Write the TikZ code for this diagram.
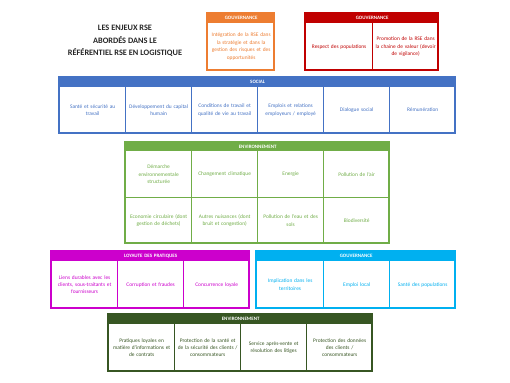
\documentclass[tikz,border=0pt]{standalone}
\usepackage{fontspec}
\setmainfont{Carlito}
\definecolor{corange}{HTML}{ED7D31}
\definecolor{cred}{HTML}{C00000}
\definecolor{cblue}{HTML}{4472C4}
\definecolor{cgreen}{HTML}{70AD47}
\definecolor{cmag}{HTML}{CC00CC}
\definecolor{ccyan}{HTML}{00B0F0}
\definecolor{cdgreen}{HTML}{375623}
\definecolor{ctitle}{HTML}{262626}
\begin{document}
\begin{tikzpicture}[x=1pt,y=-1pt,
  cell/.style={draw=#1, line width=1.3pt, text=#1, anchor=north west, inner sep=0pt,
    align=center, font=\fontsize{5.4}{7.4}\selectfont},
  head/.style={fill=#1, draw=#1, line width=1.3pt, text=white, anchor=north west,
    inner sep=0pt, align=center, font=\bfseries\fontsize{5}{6}\selectfont},
  frame/.style={draw=#1, line width=1.8pt},
  cw/.style={minimum width=#1pt, text width=#1pt-3pt},
  ch/.style={minimum height=#1pt}]
\useasboundingbox[fill=white] (0,0) rectangle (510,382);

% title
\node[text=ctitle, font=\bfseries\fontsize{8.3}{12.4}\selectfont, align=center] (title) at (125,41)
  {LES ENJEUX RSE\\ABORDÉS DANS LE\\RÉFÉRENTIEL RSE EN LOGISTIQUE};

% orange gouvernance
\node[head=corange, cw=67, ch=9] (og) at (207,13) {GOUVERNANCE};
\node[cell=corange, cw=67, ch=48] (o1) at (207,22) {Intégration de la RSE dans\\la stratégie et dans la\\gestion des risques et des\\opportunités};
\draw[frame=corange] (207,13) rectangle (274,70);

% red gouvernance
\node[head=cred, cw=133, ch=9] (rg) at (305,13) {GOUVERNANCE};
\node[cell=cred, cw=67, ch=48] (r1) at (305,22) {Respect des populations};
\node[cell=cred, cw=66, ch=48] (r2) at (372,22) {Promotion de la RSE dans\\la chaine de valeur (devoir\\de vigilance)};
\draw[frame=cred] (305,13) rectangle (438,70);

% social
\node[head=cblue, cw=396, ch=9] (sg) at (59,77) {SOCIAL};
\node[cell=cblue, cw=66, ch=47] (s1) at (59,86) {Santé et sécurité au\\travail};
\node[cell=cblue, cw=66, ch=47] (s2) at (125,86) {Développement du capital\\humain};
\node[cell=cblue, cw=66, ch=47] (s3) at (191,86) {Conditions de travail et\\qualité de vie au travail};
\node[cell=cblue, cw=66, ch=47] (s4) at (257,86) {Emplois et relations\\employeurs / employé};
\node[cell=cblue, cw=66, ch=47] (s5) at (323,86) {Dialogue social};
\node[cell=cblue, cw=66, ch=47] (s6) at (389,86) {Rémunération};
\draw[frame=cblue] (59,77) rectangle (455,133);

% environnement (green)
\node[head=cgreen, cw=264, ch=8] (eg) at (125,142) {ENVIRONNEMENT};
\node[cell=cgreen, cw=66, ch=47] (e1) at (125,150) {Démarche\\environnementale\\structurée};
\node[cell=cgreen, cw=66, ch=47] (e2) at (191,150) {Changement climatique};
\node[cell=cgreen, cw=66, ch=47] (e3) at (257,150) {Energie};
\node[cell=cgreen, cw=66, ch=47] (e4) at (323,150) {Pollution de l'air};
\node[cell=cgreen, cw=66, ch=46] (e5) at (125,197) {Economie circulaire (dont\\gestion de déchets)};
\node[cell=cgreen, cw=66, ch=46] (e6) at (191,197) {Autres nuisances (dont\\bruit et congestion)};
\node[cell=cgreen, cw=66, ch=46] (e7) at (257,197) {Pollution de l'eau et des\\sols};
\node[cell=cgreen, cw=66, ch=46] (e8) at (323,197) {Biodiversité};
\draw[frame=cgreen] (125,142) rectangle (389,243);

% loyaute des pratiques
\node[head=cmag, cw=198, ch=9] (lg) at (51,251) {LOYAUTE DES PRATIQUES};
\node[cell=cmag, cw=66, ch=48] (l1) at (51,260) {Liens durables avec les\\clients, sous-traitants et\\fournisseurs};
\node[cell=cmag, cw=66, ch=48] (l2) at (117,260) {Corruption et fraudes};
\node[cell=cmag, cw=66, ch=48] (l3) at (183,260) {Concurrence loyale};
\draw[frame=cmag] (51,251) rectangle (249,308);

% gouvernance (cyan)
\node[head=ccyan, cw=199, ch=9] (cg) at (256,251) {GOUVERNANCE};
\node[cell=ccyan, cw=67, ch=48] (c1) at (256,260) {Implication dans les\\territoires};
\node[cell=ccyan, cw=66, ch=48] (c2) at (323,260) {Emploi local};
\node[cell=ccyan, cw=66, ch=48] (c3) at (389,260) {Santé des populations};
\draw[frame=ccyan] (256,251) rectangle (455,308);

% environnement (dark green)
\node[head=cdgreen, cw=264, ch=9] (dg) at (108,314) {ENVIRONNEMENT};
\node[cell=cdgreen, cw=66, ch=48] (d1) at (108,323) {Pratiques loyales en\\matière d'informations et\\de contrats};
\node[cell=cdgreen, cw=66, ch=48] (d2) at (174,323) {Protection de la santé et\\de la sécurité des clients /\\consommateurs};
\node[cell=cdgreen, cw=66, ch=48] (d3) at (240,323) {Service après-vente et\\résolution des litiges};
\node[cell=cdgreen, cw=66, ch=48] (d4) at (306,323) {Protection des données\\des clients /\\consommateurs};
\draw[frame=cdgreen] (108,314) rectangle (372,371);
\end{tikzpicture}
\end{document}
